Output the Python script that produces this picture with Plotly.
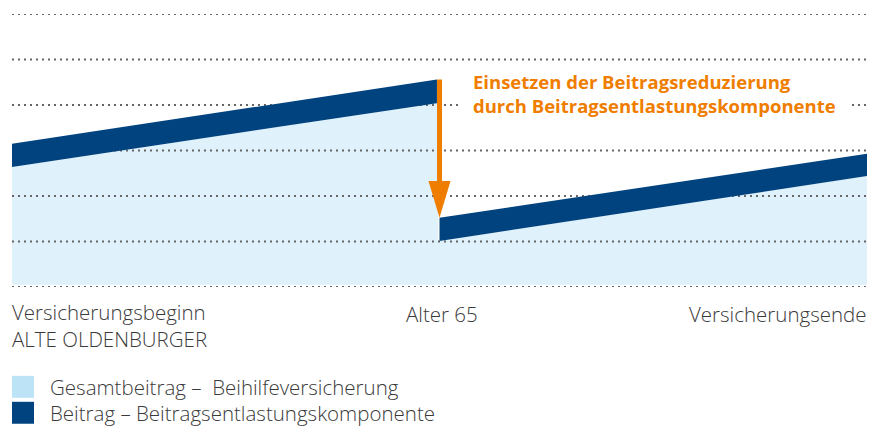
import plotly.graph_objects as go

# ---- data (abstract units: x 0..100 along contract time, y in grid units) ----
phase1_x = [0, 49.7]
phase1_bottom = [2.64, 4.04]
phase1_top = [3.15, 4.56]
phase2_x = [50.0, 100]
phase2_bottom = [1.01, 2.44]
phase2_top = [1.52, 2.93]
fill_base = 0.05
grid_levels = [0, 1, 2, 3, 4, 5, 6]
arrow_x = 50.0
tick_positions = [0, 50.35, 100]
tick_labels = ["Versicherungsbeginn<br>ALTE OLDENBURGER", "Alter 65", "Versicherungsende"]
annotation_text = "Einsetzen der Beitragsreduzierung<br>durch Beitragsentlastungskomponente"
legend_labels = ["Gesamtbeitrag –  Beihilfeversicherung", "Beitrag – Beitragsentlastungskomponente"]

DARK = "#00437F"
FILL = "#DFF1FB"
LEG_LIGHT = "#BDE3F7"
ORANGE = "#EF7D00"
TEXT = "#3a3a3a"
GRID = "#666666"
FONT = "Open Sans"

# page geometry (page has an 8px body margin)
OFF = 8
PL, PR, PT, PB = 12, 867, 13.5, 287   # plot area in page pixels
W, H = 882 - OFF, 428 - OFF


def paper_x(px):
    return (px - PL) / (PR - PL)


def paper_y(py):
    return (PB - py) / (PB - PT)


fig = go.Figure()

# light blue total contribution area
mid_x = (phase1_x[1] + phase2_x[0]) / 2
fx = [phase1_x[0], phase1_x[0], phase1_x[1], mid_x, mid_x, phase2_x[1], phase2_x[1], phase1_x[0]]
fy = [fill_base, phase1_bottom[0], phase1_bottom[1], phase1_bottom[1], phase2_bottom[0],
      phase2_bottom[1], fill_base, fill_base]
fig.add_trace(go.Scatter(x=fx, y=fy, fill="toself", fillcolor=FILL, mode="none",
                         showlegend=False, hoverinfo="skip"))

# dotted grid lines (above the fill, below the bands)
for g in grid_levels:
    fig.add_trace(go.Scatter(x=[0, 100], y=[g, g], mode="lines",
                             line=dict(color=GRID, width=2, dash="2px,4px"),
                             showlegend=False, hoverinfo="skip"))

# dark bands
for bx, bb, bt in [(phase1_x, phase1_bottom, phase1_top), (phase2_x, phase2_bottom, phase2_top)]:
    fig.add_trace(go.Scatter(x=[bx[0], bx[1], bx[1], bx[0], bx[0]],
                             y=[bb[0], bb[1], bt[1], bt[0], bb[0]],
                             fill="toself", fillcolor=DARK, mode="none",
                             showlegend=False, hoverinfo="skip"))

# orange arrow
head_len = 0.81
head_half = 1.29
tip_y = phase2_top[0]
fig.add_trace(go.Scatter(x=[arrow_x, arrow_x], y=[phase1_top[1], tip_y + head_len],
                         mode="lines", line=dict(color=ORANGE, width=5),
                         showlegend=False, hoverinfo="skip"))
fig.add_trace(go.Scatter(x=[arrow_x - head_half, arrow_x + head_half, arrow_x, arrow_x - head_half],
                         y=[tip_y + head_len, tip_y + head_len, tip_y, tip_y + head_len],
                         fill="toself", fillcolor=ORANGE, mode="none",
                         showlegend=False, hoverinfo="skip"))

shapes = [
    # white backing behind the callout text (interrupts the dotted line)
    dict(type="rect", xref="paper", yref="paper", layer="above",
         x0=paper_x(462), x1=paper_x(848), y0=paper_y(97), y1=paper_y(114),
         fillcolor="white", line=dict(width=0)),
]

annotations = [
    dict(x=paper_x(471.5), y=paper_y(93), xref="paper", yref="paper",
         xanchor="left", yanchor="middle", align="left",
         text=annotation_text, showarrow=False, borderpad=0,
         font=dict(family=FONT, size=18.5, color=ORANGE, weight="bold")),
]

BODY = dict(family=FONT, size=20.5, color=TEXT, weight=300)
anchors = ["left", "center", "right"]
ycent = [326, 314.5, 314.5]
xshifts = [-2, 0, 2]
for pos, lab, anc, yc, xs in zip(tick_positions, tick_labels, anchors, ycent, xshifts):
    annotations.append(dict(x=pos / 100, y=paper_y(yc), xref="paper", yref="paper", xanchor=anc,
                            yanchor="middle", align="left", text=lab, showarrow=False,
                            xshift=xs, font=BODY))

leg_colors = [LEG_LIGHT, DARK]
for i, (lab, col) in enumerate(zip(legend_labels, leg_colors)):
    y0 = 376 + i * 26
    shapes.append(dict(type="rect", xref="paper", yref="paper",
                       x0=paper_x(12), x1=paper_x(34), y0=paper_y(y0), y1=paper_y(y0 + 22),
                       fillcolor=col, line=dict(width=0)))
    annotations.append(dict(x=paper_x(48), y=paper_y(y0 + 11.5), xref="paper", yref="paper",
                            xanchor="left", yanchor="middle", text=lab, showarrow=False,
                            font=BODY))

fig.update_layout(
    width=W, height=H,
    margin=dict(l=PL - OFF, r=W - (PR - OFF), t=PT - OFF, b=H - (PB - OFF)),
    paper_bgcolor="white", plot_bgcolor="white",
    xaxis=dict(range=[0, 100], visible=False),
    yaxis=dict(range=[grid_levels[0], grid_levels[-1]], visible=False),
    annotations=annotations, shapes=shapes,
    showlegend=False,
)
fig.write_html("out.html")
